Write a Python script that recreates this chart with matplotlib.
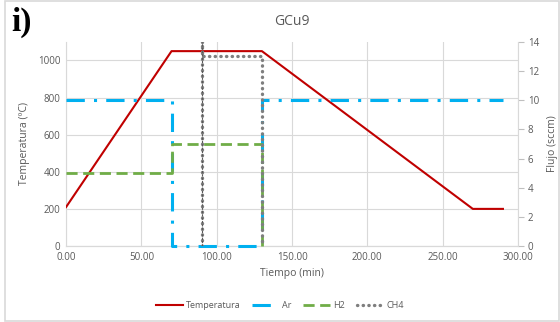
import matplotlib
matplotlib.use('Agg')
import matplotlib.pyplot as plt
from matplotlib.patches import Rectangle

# process profile for sample GCu9
temp_t = [0, 70, 130, 270, 290]
temp_c = [210, 1050, 1050, 200, 200]

ar_t = [0, 70, 70, 130, 130, 290]
ar_f = [10, 10, 0, 0, 10, 10]

h2_t = [0, 70, 70, 130, 130]
h2_f = [5, 5, 7, 7, 0]

ch4_t = [90, 90, 90, 130, 130]
ch4_f = [0, 15, 13, 13, 0]

x_ticks = [0, 50, 100, 150, 200, 250, 300]
temp_ticks = [0, 200, 400, 600, 800, 1000]
flow_ticks = [0, 2, 4, 6, 8, 10, 12, 14]

plt.rcParams['font.family'] = ['Open Sans', 'DejaVu Sans']
txt = '#595959'
grid_c = '#d9d9d9'

fig = plt.figure(figsize=(5.6, 3.22), dpi=100)
ax = fig.add_axes([0.118, 0.236, 0.807, 0.634])
ax2 = ax.twinx()

ax.plot(temp_t, temp_c, color='#c00000', lw=1.5, label='Temperatura', zorder=3)
l_ar, = ax2.plot(ar_t, ar_f, color='#00b0f0', lw=2.2, ls=(0, (6, 3, 1, 3)),
                 label='Ar', clip_on=False, zorder=3)
l_h2, = ax2.plot(h2_t, h2_f, color='#70ad47', lw=2.0, ls=(0, (4, 2)),
                 label='H2', clip_on=False, zorder=3)
l_ch4, = ax2.plot(ch4_t, ch4_f, color='#7f7f7f', lw=2.4, ls=(0, (0.1, 1.6)),
                  dash_capstyle='round', solid_capstyle='round', label='CH4',
                  zorder=4)
ax2.plot([90, 90], [0, 14], color='#595959', lw=0.8, ls=(0, (2, 1)), zorder=4)

ax.set_xlim(0, 300)
ax.set_ylim(0, 1100)
ax2.set_ylim(0, 14)
ax.set_xticks(x_ticks)
ax.set_xticklabels([f'{v:.2f}' for v in x_ticks])
ax.set_yticks(temp_ticks)
ax2.set_yticks(flow_ticks)

ax.grid(True, color=grid_c, lw=0.8)
ax.set_axisbelow(True)
for a in (ax, ax2):
    a.spines['top'].set_visible(False)
    a.spines['left'].set_color(grid_c)
    a.spines['bottom'].set_color(grid_c)
    a.spines['right'].set_color(grid_c)
ax2.spines['left'].set_visible(False)
ax.spines['right'].set_visible(False)

ax.tick_params(axis='both', length=0, labelsize=7, colors=txt, pad=4)
ax2.tick_params(axis='y', length=4, width=0.8, color='#bfbfbf', labelsize=7,
                labelcolor=txt, pad=3)

ax.set_xlabel('Tiempo (min)', fontsize=7.5, color=txt, labelpad=4)
ax.set_ylabel('Temperatura (ºC)', fontsize=7.5, color=txt, labelpad=6)
ax2.set_ylabel('Flujo (sccm)', fontsize=7.5, color=txt, rotation=90, labelpad=6)
ax.set_title('GCu9', fontsize=10, color=txt, pad=12)

h1, lab1 = ax.get_legend_handles_labels()
fig.legend(h1 + [l_ar, l_h2, l_ch4], lab1 + ['Ar', 'H2', 'CH4'],
           loc='center', bbox_to_anchor=(0.5, 0.052), ncol=4, frameon=False,
           fontsize=6.5, labelcolor=txt, handlelength=3.0, columnspacing=1.3,
           handletextpad=0.3)

fig.text(0.02, 0.93, 'i)', fontsize=24, fontweight='bold',
         family='Liberation Serif', va='center', ha='left')

fig.patches.append(Rectangle((0.009, 0.003), 0.99, 0.994, transform=fig.transFigure,
                             fill=False, edgecolor=grid_c, lw=1.2))

fig.savefig('out.png', dpi=100)
